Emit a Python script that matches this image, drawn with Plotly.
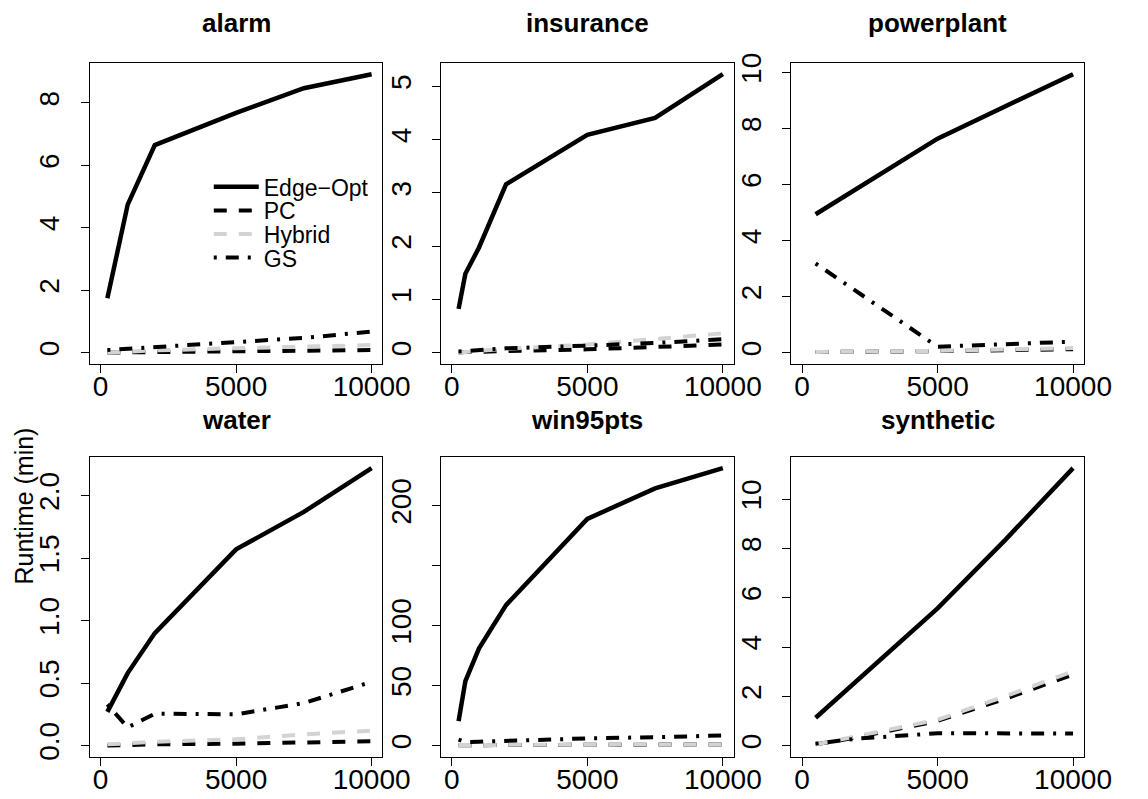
import plotly.graph_objects as go

# ---------------- data ----------------
series_names = ["Edge\u2212Opt", "PC", "Hybrid", "GS"]

alarm_x = [250, 1000, 2000, 5000, 7500, 10000]
alarm_edge = [1.74, 4.74, 6.65, 7.68, 8.47, 8.92]
alarm_pc = [0.0, 0.01, 0.02, 0.04, 0.06, 0.08]
alarm_hybrid = [0.0, 0.03, 0.07, 0.14, 0.19, 0.24]
alarm_gs = [0.08, 0.12, 0.17, 0.32, 0.47, 0.67]

insurance_x = [250, 500, 1000, 2000, 5000, 7500, 10000]
insurance_edge = [0.82, 1.48, 1.97, 3.16, 4.09, 4.41, 5.23]
insurance_pc = [0.0, 0.01, 0.01, 0.03, 0.06, 0.10, 0.15]
insurance_hybrid = [0.0, 0.01, 0.03, 0.07, 0.15, 0.25, 0.36]
insurance_gs = [0.02, 0.03, 0.04, 0.08, 0.13, 0.18, 0.25]

powerplant_x = [500, 5000, 10000]
powerplant_edge = [4.94, 7.64, 9.94]
powerplant_pc = [0.02, 0.05, 0.12]
powerplant_hybrid = [0.02, 0.06, 0.16]
powerplant_gs = [3.18, 0.21, 0.39]

water_x = [250, 1000, 2000, 5000, 7500, 10000]
water_edge = [0.27, 0.58, 0.90, 1.57, 1.87, 2.22]
water_pc = [0.0, 0.005, 0.01, 0.015, 0.025, 0.035]
water_hybrid = [0.01, 0.02, 0.03, 0.05, 0.09, 0.12]
water_gs = [0.33, 0.145, 0.255, 0.25, 0.34, 0.51]

win95_x = [250, 500, 1000, 2000, 5000, 7500, 10000]
win95_edge = [20.4, 53.7, 80.9, 117.1, 189.0, 214.4, 231.3]
win95_pc = [0.3, 0.3, 0.4, 0.5, 0.7, 0.8, 1.0]
win95_hybrid = [0.5, 0.5, 0.6, 0.7, 0.8, 0.9, 1.0]
win95_gs = [5.0, 3.0, 3.2, 4.0, 6.0, 7.0, 8.4]

synthetic_x = [500, 2000, 5000, 7500, 10000]
synthetic_edge = [1.13, 2.60, 5.57, 8.35, 11.26]
synthetic_pc = [0.05, 0.33, 1.0, 1.9, 2.88]
synthetic_hybrid = [0.04, 0.38, 1.05, 2.0, 3.02]
synthetic_gs = [0.08, 0.28, 0.50, 0.50, 0.49]

panel_titles = ["alarm", "insurance", "powerplant", "water", "win95pts", "synthetic"]
x_ticks = [0, 5000, 10000]
y_tickvals = [
    [0, 2, 4, 6, 8],
    [0, 1, 2, 3, 4, 5],
    [0, 2, 4, 6, 8, 10],
    [0.0, 0.5, 1.0, 1.5, 2.0],
    [0, 50, 100, 150, 200],
    [0, 2, 4, 6, 8, 10],
]
y_ticktext = [
    ["0", "2", "4", "6", "8"],
    ["0", "1", "2", "3", "4", "5"],
    ["0", "2", "4", "6", "8", "10"],
    ["0.0", "0.5", "1.0", "1.5", "2.0"],
    ["0", "50", "100", "", "200"],
    ["0", "2", "4", "6", "8", "10"],
]

panels = [
    (alarm_x, alarm_edge, alarm_pc, alarm_hybrid, alarm_gs),
    (insurance_x, insurance_edge, insurance_pc, insurance_hybrid, insurance_gs),
    (powerplant_x, powerplant_edge, powerplant_pc, powerplant_hybrid, powerplant_gs),
    (water_x, water_edge, water_pc, water_hybrid, water_gs),
    (win95_x, win95_edge, win95_pc, win95_hybrid, win95_gs),
    (synthetic_x, synthetic_edge, synthetic_pc, synthetic_hybrid, synthetic_gs),
]

# ---------------- layout / style ----------------
W, H = 1148, 799
FONT = "Liberation Sans, Arial, Helvetica, sans-serif"
col_px = [(92, 392), (452, 752), (811, 1111)]
row_px = [(54, 360), (455, 760)]
title_px = [13, 417]
legend_rows_px = [180, 204, 228, 252]
legend_ids = ["legend", "legend2", "legend3", "legend4"]

styles = [
    dict(color="black", width=4.5, dash="solid"),
    dict(color="black", width=4, dash="13px,12px"),
    dict(color="#D3D3D3", width=4, dash="13px,12px"),
    dict(color="black", width=4, dash="3px,9px,13px,9px"),
]

fig = go.Figure()

for i, (xs, *ys) in enumerate(panels):
    r, c = divmod(i, 3)
    ax = "" if i == 0 else str(i + 1)
    for k, (name, yv) in enumerate(zip(series_names, ys)):
        fig.add_trace(go.Scatter(
            x=xs, y=yv, mode="lines", name=name,
            line=styles[k],
            xaxis="x" + ax, yaxis="y" + ax,
            showlegend=(i == 0), legend=legend_ids[k],
        ))
    allv = [v for s in ys for v in s]
    lo, hi = min(0, min(allv)), max(allv)
    ext = 0.04 * (hi - lo)
    x0, x1 = col_px[c]
    y0, y1 = row_px[r]
    common = dict(showline=True, mirror=True, linecolor="black", linewidth=1.2,
                  ticks="outside", ticklen=8, tickwidth=1.2, tickcolor="black",
                  showgrid=False, zeroline=False,
                  tickfont=dict(family=FONT, size=28, color="black"))
    fig.update_layout(**{
        "xaxis" + ax: dict(domain=[x0 / W, x1 / W], anchor="y" + ax,
                           range=[-400, 10400], tickvals=x_ticks,
                           ticktext=[str(t) for t in x_ticks],
                           ticklabelstandoff=-10, **common),
        "yaxis" + ax: dict(domain=[1 - y1 / H, 1 - y0 / H], anchor="x" + ax,
                           range=[lo - ext, hi + ext], tickvals=y_tickvals[i],
                           ticktext=y_ticktext[i], tickangle=-90,
                           ticklabelstandoff=10, **common),
    })
    fig.add_annotation(text="<b>" + panel_titles[i] + "</b>", xref="paper", yref="paper",
                       x=(x0 + x1) / 2 / W, y=1 - title_px[r] / H,
                       showarrow=False, xanchor="center", yanchor="middle",
                       font=dict(family=FONT, size=26, color="black"))

fig.add_annotation(text="Runtime (min)", xref="paper", yref="paper",
                   x=25 / W, y=1 - 505 / H, textangle=-90, showarrow=False,
                   xanchor="center", yanchor="middle",
                   font=dict(family=FONT, size=25, color="black"))

fig.update_layout(
    width=W, height=H,
    margin=dict(l=0, r=0, t=0, b=0),
    paper_bgcolor="white", plot_bgcolor="white",
    font=dict(family=FONT, color="black"),
)
for lid, ypx in zip(legend_ids, legend_rows_px):
    fig.update_layout(**{lid: dict(
        x=214 / W, y=1 - ypx / H, xanchor="left", yanchor="middle",
        bgcolor="rgba(0,0,0,0)", borderwidth=0,
        font=dict(family=FONT, size=23, color="black"),
        itemwidth=45,
    )})

fig.write_html("out.html")
